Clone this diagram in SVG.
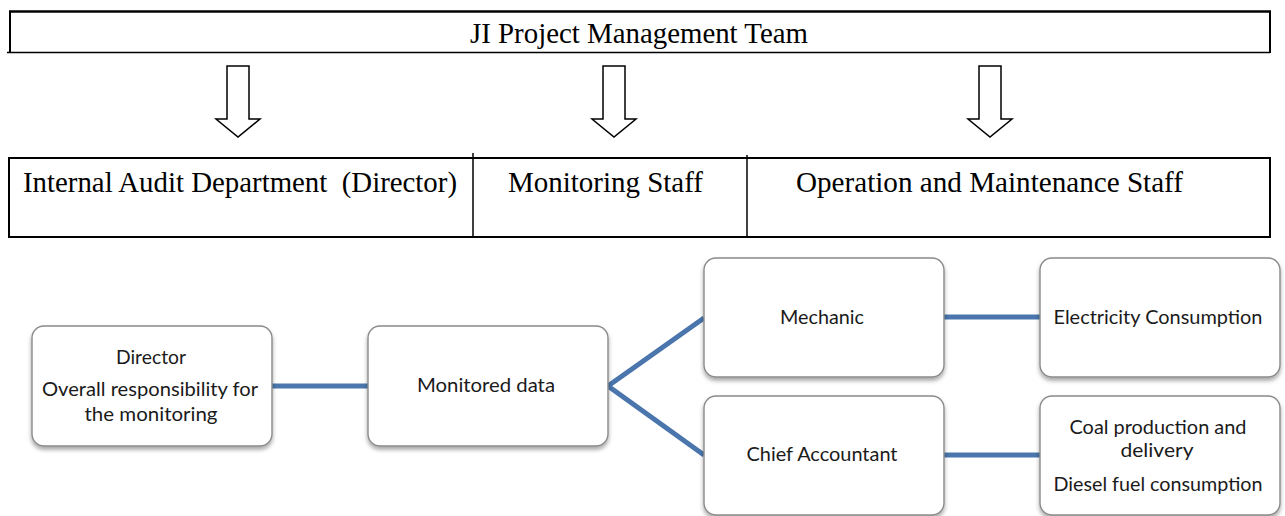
<svg xmlns="http://www.w3.org/2000/svg" width="1285" height="516" viewBox="0 0 1285 516">
<style>
.serif{font-family:"Liberation Serif","Times New Roman",serif;font-size:30px;fill:#000;white-space:pre}
.sans{font-family:Lato,"Open Sans","Liberation Sans",sans-serif;font-size:19px;fill:#1a1a1a;text-anchor:middle}
.frame{fill:none;stroke:#000}
.arrow{fill:#fff;stroke:#000;stroke-width:1.5;stroke-linejoin:miter}
.node{fill:#fff;stroke:#8a8a8a;stroke-width:1.4;filter:url(#shadow)}
.conn{stroke:#4a76ad;stroke-width:5;fill:none;stroke-linecap:butt;stroke-linejoin:miter}
</style>
<defs>
<filter id="shadow" x="-10%" y="-10%" width="120%" height="130%">
<feDropShadow dx="0" dy="3" stdDeviation="2" flood-color="#000" flood-opacity="0.35"/>
</filter>
<path id="blockArrow" d="M-11,66 H11 V119 H22 L0,137 L-22,119 H-11 Z"/>
</defs>
<rect width="1285" height="516" fill="#fff"/>

<g id="top-team">
<line class="frame" x1="9" y1="11.5" x2="1271" y2="11.5" stroke-width="2.5"/>
<line class="frame" x1="7" y1="52.5" x2="1270" y2="52.5" stroke-width="1.3"/>
<line class="frame" x1="10" y1="11" x2="10" y2="53" stroke-width="2"/>
<line class="frame" x1="1270" y1="11" x2="1270" y2="53" stroke-width="2"/>
<text class="serif" x="470" y="43" textLength="338" lengthAdjust="spacingAndGlyphs">JI Project Management Team</text>
</g>

<g id="arrows-down">
<use href="#blockArrow" class="arrow" transform="translate(238,0)"/>
<use href="#blockArrow" class="arrow" transform="translate(614,0)"/>
<use href="#blockArrow" class="arrow" transform="translate(990,0)"/>
</g>

<g id="staff-row">
<rect class="frame" x="9" y="158" width="1261" height="79" stroke-width="2"/>
<line class="frame" x1="473" y1="153" x2="473" y2="237" stroke-width="1.5"/>
<line class="frame" x1="747" y1="155" x2="747" y2="237" stroke-width="1.5"/>
<text class="serif" x="23" y="192" textLength="434" lengthAdjust="spacingAndGlyphs">Internal Audit Department  (Director)</text>
<text class="serif" x="508" y="192" textLength="195" lengthAdjust="spacingAndGlyphs">Monitoring Staff</text>
<text class="serif" x="796" y="192" textLength="387" lengthAdjust="spacingAndGlyphs">Operation and Maintenance Staff</text>
</g>

<g id="connectors">
<line class="conn" x1="272" y1="386" x2="368" y2="386"/>
<polyline class="conn" points="704,318 608,386 704,455"/>
<line class="conn" x1="944" y1="317" x2="1040" y2="317"/>
<line class="conn" x1="944" y1="455" x2="1040" y2="455"/>
</g>

<g id="node-director">
<rect class="node" x="32" y="326" width="240" height="120" rx="12"/>
<text class="sans" x="151" y="364" textLength="70" lengthAdjust="spacingAndGlyphs">Director</text>
<text class="sans" x="150" y="396" textLength="216" lengthAdjust="spacingAndGlyphs">Overall responsibility for</text>
<text class="sans" x="151" y="421" textLength="133" lengthAdjust="spacingAndGlyphs">the monitoring</text>
</g>

<g id="node-monitored">
<rect class="node" x="368" y="326" width="240" height="120" rx="12"/>
<text class="sans" x="486" y="392" textLength="138" lengthAdjust="spacingAndGlyphs">Monitored data</text>
</g>

<g id="node-mechanic">
<rect class="node" x="704" y="258" width="240" height="119" rx="12"/>
<text class="sans" x="822" y="324" textLength="84" lengthAdjust="spacingAndGlyphs">Mechanic</text>
</g>

<g id="node-accountant">
<rect class="node" x="704" y="396" width="240" height="119" rx="12"/>
<text class="sans" x="822" y="461" textLength="151" lengthAdjust="spacingAndGlyphs">Chief Accountant</text>
</g>

<g id="node-electricity">
<rect class="node" x="1040" y="258" width="240" height="119" rx="12"/>
<text class="sans" x="1158" y="324" textLength="209" lengthAdjust="spacingAndGlyphs">Electricity Consumption</text>
</g>

<g id="node-coal">
<rect class="node" x="1040" y="396" width="240" height="119" rx="12"/>
<text class="sans" x="1158" y="434" textLength="177" lengthAdjust="spacingAndGlyphs">Coal production and</text>
<text class="sans" x="1157" y="457" textLength="73" lengthAdjust="spacingAndGlyphs">delivery</text>
<text class="sans" x="1158" y="491" textLength="209" lengthAdjust="spacingAndGlyphs">Diesel fuel consumption</text>
</g>
</svg>
